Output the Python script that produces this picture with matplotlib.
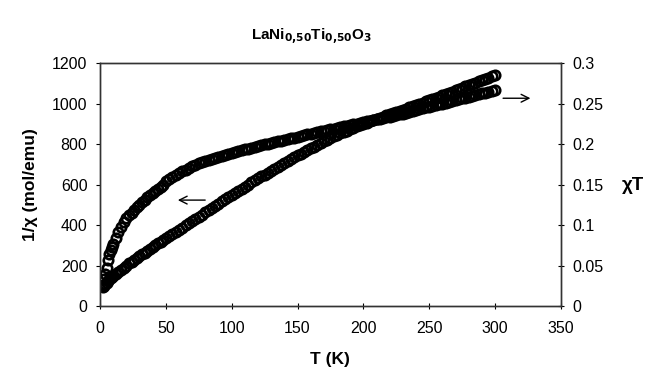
import matplotlib.pyplot as plt

plt.rcParams['font.family'] = ['Liberation Sans', 'DejaVu Sans']

# Temperature (K)
T_low = [2, 3, 4, 5, 6, 7, 8, 9, 10,
         12, 14, 16, 18, 20, 22, 24, 26, 28, 30, 32, 34, 36, 38, 40, 42, 44, 46, 48]
T_high = [50, 52.5, 55, 57.5, 60, 62.5, 65, 67.5, 70, 72.5, 75, 77.5, 80, 82.5, 85, 87.5,
          90, 92.5, 95, 97.5, 100, 102.5, 105, 107.5, 110, 112.5, 115, 117.5, 120, 122.5,
          125, 127.5, 130, 132.5, 135, 137.5, 140, 142.5, 145, 147.5, 150, 152.5, 155, 157.5,
          160, 162.5, 165, 167.5, 170, 172.5, 175, 177.5, 180, 182.5, 185, 187.5, 190, 192.5,
          195, 197.5, 200, 202.5, 205, 207.5, 210, 212.5, 215, 217.5, 220, 222.5, 225, 227.5,
          230, 232.5, 235, 237.5, 240, 242.5, 245, 247.5, 250, 252.5, 255, 257.5, 260, 262.5,
          265, 267.5, 270, 272.5, 275, 277.5, 280, 282.5, 285, 287.5, 290, 292.5, 295, 297.5,
          300]
temp = T_low + T_high

# 1/chi (mol/emu), left axis
inv_chi = [92, 100, 108, 116, 124, 132, 138, 144, 150,
           160, 170, 180, 190, 200, 210, 219, 228, 237, 246, 255, 264, 273, 282, 291, 300,
           309, 317, 326,
           335, 345, 356, 366, 377, 387, 398, 408, 419, 429, 440, 451, 462, 473, 484, 495,
           506, 517, 528, 539, 550, 560, 570, 580, 590, 600, 610, 620, 630, 640, 649, 659,
           668, 678, 687, 697, 706, 716, 726, 735, 745, 753, 762, 770, 779, 787, 796, 804,
           813, 821, 830, 838, 845, 852, 859, 866, 873, 880, 887, 893, 900, 906, 912, 918,
           924, 930, 935, 941, 947, 953, 958, 964, 969, 975, 981, 986, 992, 998, 1004, 1010,
           1015, 1021, 1027, 1034, 1040, 1046, 1052, 1059, 1065, 1071, 1077, 1084, 1090,
           1097, 1103, 1110, 1116, 1122, 1128, 1135, 1141]

# chi*T, right axis
chi_t = [0.0263, 0.0338, 0.04, 0.0475, 0.057, 0.0645, 0.0695, 0.073, 0.0763,
         0.0838, 0.091, 0.0975, 0.1033, 0.1083, 0.112, 0.1153, 0.1185, 0.1218, 0.1248,
         0.128, 0.131, 0.134, 0.137, 0.1398, 0.1425, 0.145, 0.1475, 0.15,
         0.1538, 0.1565, 0.1593, 0.1618, 0.1643, 0.1663, 0.1683, 0.1705, 0.1725, 0.1743,
         0.176, 0.1775, 0.179, 0.1805, 0.1818, 0.183, 0.1843, 0.1855, 0.1865, 0.1878,
         0.1888, 0.19, 0.191, 0.1923, 0.1933, 0.1943, 0.1955, 0.1965, 0.1975, 0.1985,
         0.1995, 0.2005, 0.2015, 0.2025, 0.2035, 0.2043, 0.2053, 0.2063, 0.2073, 0.208,
         0.209, 0.21, 0.211, 0.2118, 0.2128, 0.2138, 0.2148, 0.2155, 0.2165, 0.2173,
         0.2183, 0.219, 0.22, 0.2208, 0.2218, 0.2225, 0.2233, 0.2243, 0.225, 0.226,
         0.2268, 0.2278, 0.2285, 0.2295, 0.2303, 0.2313, 0.232, 0.233, 0.2338, 0.2348,
         0.2358, 0.2365, 0.2375, 0.2385, 0.2395, 0.2408, 0.2418, 0.243, 0.244, 0.2453,
         0.2463, 0.2473, 0.2483, 0.249, 0.25, 0.251, 0.252, 0.2533, 0.2543, 0.2553,
         0.2563, 0.2573, 0.2583, 0.2593, 0.2603, 0.2615, 0.2625, 0.2635, 0.2645, 0.2658,
         0.2668]

x_ticks = [0, 50, 100, 150, 200, 250, 300, 350]
left_ticks = [0, 200, 400, 600, 800, 1000, 1200]
right_ticks = [0, 0.05, 0.1, 0.15, 0.2, 0.25, 0.3]
right_labels = ['0', '0.05', '0.1', '0.15', '0.2', '0.25', '0.3']

fig = plt.figure(figsize=(6.56, 3.83), dpi=100)
ax = fig.add_axes([0.1524, 0.201, 0.7026, 0.6345])
ax2 = ax.twinx()

mk = dict(marker='o', linestyle='none', markersize=6.8, markerfacecolor='none',
          markeredgecolor='black', markeredgewidth=1.9)
ax.plot(temp, inv_chi, **mk)
ax2.plot(temp, chi_t, **mk)

ax.set_xlim(0, 350)
ax.set_ylim(0, 1200)
ax2.set_ylim(0, 0.3)
ax.set_xticks(x_ticks)
ax.set_yticks(left_ticks)
ax2.set_yticks(right_ticks)
ax2.set_yticklabels(right_labels)

for a in (ax, ax2):
    for s in a.spines.values():
        s.set_color('#333333')
        s.set_linewidth(1.0)
ax.tick_params(axis='x', direction='inout', length=4, labelsize=11.5, pad=9)
ax.tick_params(axis='y', direction='out', length=3, labelsize=11.5, pad=6)
ax2.tick_params(axis='y', direction='inout', length=4, labelsize=11.5, pad=6)

ax.set_xlabel('T (K)', fontsize=12.5, fontweight='bold', labelpad=11)
ax.set_ylabel('1/χ (mol/emu)', fontsize=12.5, fontweight='bold', labelpad=10)
fig.text(0.965, 0.515, 'χT', fontsize=13.5, fontweight='bold', ha='center', va='center')

fig.text(0.475, 0.905, r'LaNi$_{\mathbf{0{,}50}}$Ti$_{\mathbf{0{,}50}}$O$_{\mathbf{3}}$',
         fontsize=11, fontweight='bold', ha='center', va='center')

# arrows marking which axis each curve belongs to
ax.annotate('', xy=(57, 523), xytext=(82, 523),
            arrowprops=dict(arrowstyle='->', color='black', lw=1.0, mutation_scale=14))
ax.annotate('', xy=(329, 1026), xytext=(304, 1026),
            arrowprops=dict(arrowstyle='->', color='black', lw=1.0, mutation_scale=14),
            annotation_clip=False)

fig.savefig('out.png', dpi=100)
